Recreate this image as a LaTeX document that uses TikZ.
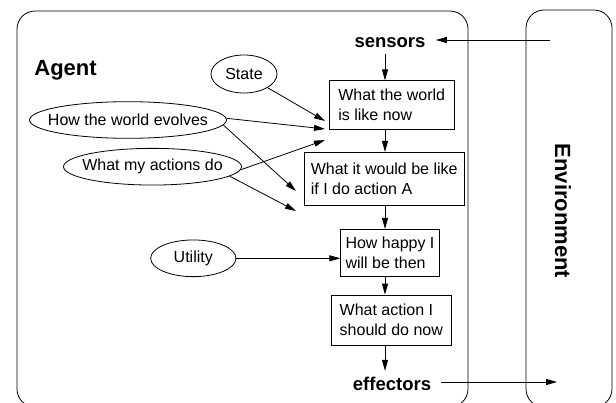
\documentclass[tikz,border=0pt]{standalone}
\usepackage{fontspec}
\setmainfont{Liberation Sans}
\usetikzlibrary{shapes.geometric,arrows.meta}

\begin{document}
\begin{tikzpicture}[x=1pt,y=-1pt,
  line width=0.8pt,
  frame/.style={draw, rounded corners=18pt},
  % the negative horizontal padding lets the minimum size set the ellipse
  oval/.style={draw, ellipse, inner xsep=-40pt, inner ysep=0pt, font=\fontsize{16}{20}\selectfont},
  stepbox/.style={draw, rectangle, inner sep=0pt, align=left, font=\fontsize{16}{20}\selectfont},
  lbl/.style={font=\fontsize{18.5}{22}\selectfont\bfseries, inner xsep=10pt, inner ysep=6pt},
  title/.style={font=\fontsize{22}{26}\selectfont\bfseries, inner sep=0pt},
  flow/.style={-{Triangle[length=11pt,width=6pt]}},
]
\useasboundingbox (0,0) rectangle (616,402);
\clip (0,0) rectangle (616,402);

% agent and environment frames (they run past the lower edge)
\draw[frame] (17,11) rectangle (468,407);
\draw[frame] (526,10) rectangle (612,407);

% labels
\node[title, anchor=base west] (agentlbl) at (34,75) {Agent};
\node[title, rotate=-90] (envlbl) at (563,211) {Environment};
\node[lbl] (sensors) at (390,42.5) {sensors};
\node[lbl] (effectors) at (392,384) {effectors};

% reasoning steps
\node[stepbox, minimum width=124.7pt, minimum height=48.3pt] (now) at (391.7,104.9)
  {What the world\\is like now};
\node[stepbox, minimum width=160.3pt, minimum height=52.7pt] (predict) at (384.2,178.7)
  {What it would be like\\if I do action A};
\node[stepbox, minimum width=98.6pt, minimum height=46.7pt] (happy) at (390,252.7)
  {How happy I\\will be then};
\node[stepbox, minimum width=120.7pt, minimum height=50pt] (act) at (391.3,320)
  {What action I\\should do now};

% knowledge sources
\node[oval, minimum width=66pt, minimum height=38pt] (state) at (244,74) {State};
\node[oval, minimum width=197pt, minimum height=36.6pt] (evolves) at (128,120) {How the world evolves};
\node[oval, minimum width=178pt, minimum height=36.7pt] (actions) at (152.5,166.7) {What my actions do};
\node[oval, minimum width=85.3pt, minimum height=36.7pt] (utility) at (193.3,258.3) {Utility};

% main chain
\coordinate (spine) at (385,0);
\draw[flow] (sensors.south -| spine) -- (now.north -| spine);
\draw[flow] (now.south -| spine) -- (predict.north -| spine);
\draw[flow] (predict.south -| spine) -- (happy.north -| spine);
\draw[flow] (happy.south -| spine) -- (act.north -| spine);
\draw[flow] (act.south -| spine) -- (effectors.north -| spine);

% percepts in, actions out
\coordinate (envout) at (550,40);
\draw[flow] (envout) -- (sensors.east |- envout);
\coordinate (envin) at (557,382);
\draw[flow] (effectors.east |- envin) -- (envin);

% influences of the knowledge sources
\coordinate (s1) at (325,121);
\coordinate (e1) at (325,129);
\coordinate (a1) at (325,140);
\coordinate (e2) at (296,191);
\coordinate (a2) at (296,211);
\draw[flow] (state) -- (s1);
\draw[flow] (evolves.1) -- (e1);
\draw[flow] (evolves.-3) -- (e2);
\draw[flow] (actions.-2) -- (a1);
\draw[flow] (actions.-7) -- (a2);
\draw[flow] (utility.east) -- (utility.east -| happy.west);
\end{tikzpicture}
\end{document}
